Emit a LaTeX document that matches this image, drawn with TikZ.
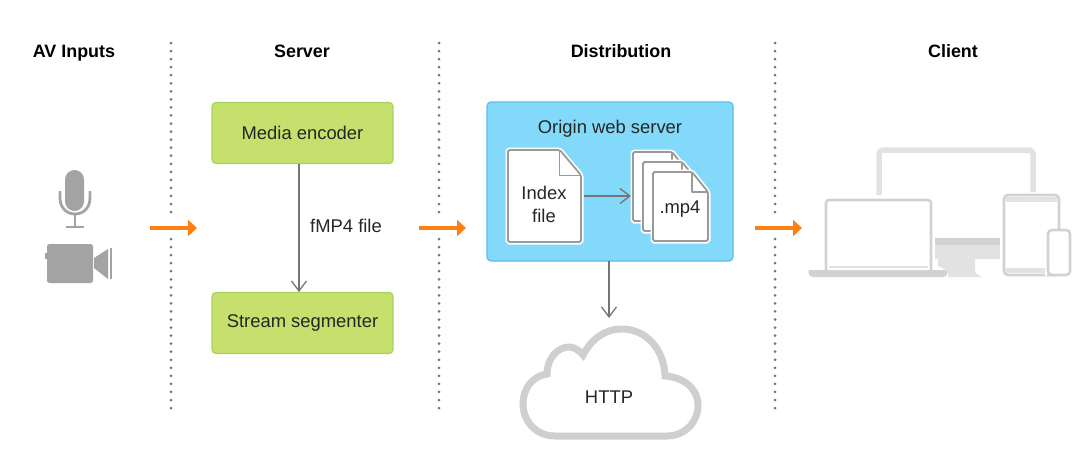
\documentclass[tikz,border=0pt]{standalone}
\usepackage{fontspec}
\setmainfont{Liberation Sans}
\usetikzlibrary{arrows.meta}
\usetikzlibrary{positioning}
\definecolor{boxgreen}{HTML}{C6E06E}
\definecolor{edgegreen}{HTML}{A6D25C}
\definecolor{boxblue}{HTML}{82D9F9}
\definecolor{edgeblue}{HTML}{5CBDEA}
\definecolor{flow}{HTML}{FF7F0F}
\definecolor{link}{HTML}{757575}
\definecolor{sheet}{HTML}{9A9A9A}
\definecolor{icon}{HTML}{A3A3A3}
\definecolor{device}{HTML}{E2E2E2}
\definecolor{devicedark}{HTML}{D2D2D2}
\definecolor{cloudline}{HTML}{CFCFCF}
\tikzset{title/.style = {font=\fontsize{17.9}{20}\selectfont\bfseries, text=black, anchor=base}}
\tikzset{label/.style = {font=\fontsize{18.4}{22}\selectfont, text=black!85, align=center, inner sep=0}}
\tikzset{greenbox/.style = {draw=edgegreen, fill=boxgreen, line width=1.2pt, rounded corners=4pt,
                            minimum width=181pt, minimum height=61pt, label}}
\tikzset{divider/.style = {draw=link, line width=3pt, line cap=round, dash pattern=on 0pt off 8.05pt}}
\tikzset{flowarrow/.style = {draw=flow, line width=3.6pt, -{Triangle[length=9pt,width=16pt]}}}
\tikzset{linkarrow/.style = {draw=link, line width=1.3pt, -{Straight Barb[length=10pt,width=15pt,line width=1.3pt]}}}
\tikzset{docsheet/.style = {draw=sheet, fill=white, line width=1.8pt, line join=round, rounded corners=1.5pt,
                            preaction={draw=white, line width=5pt}}}
\newcommand{\docpage}[4]{% left, top, width, height
  \draw[docsheet] (#1,#2) -- (#1+#3-#3*0.29,#2) -- (#1+#3,#2+#3*0.29+4) -- (#1+#3,#2+#4) -- (#1,#2+#4) -- cycle;
  \draw[draw=sheet, line width=1.3pt, line join=round] (#1+#3-#3*0.29,#2) -- (#1+#3-#3*0.29,#2+#3*0.29+4) -- (#1+#3,#2+#3*0.29+4);
}
\begin{document}
\begin{tikzpicture}[x=1pt, y=-1pt]
  \useasboundingbox (0,0) rectangle (1080,472);
  \node [title] (avtitle) at (74,57) {AV Inputs};
  \node [title] (servertitle) at (302,57) {Server};
  \node [title] (disttitle) at (621,57) {Distribution};
  \node [title] (clienttitle) at (953,57) {Client};
  \foreach \sepx in {171,439,775} {
    \draw [divider] (\sepx,43) -- (\sepx,216);
    \draw [divider] (\sepx,239) -- (\sepx,412);
  }

  % microphone and camera
  \fill [icon, rounded corners=9.5pt] (65,170) rectangle (84,211);
  \draw [icon, line width=2.8pt] (60,191) -- (60,198) .. controls (60,207) and (66,214) .. (75,214)
        .. controls (84,214) and (90,207) .. (90,198) -- (90,191);
  \draw [icon, line width=2.8pt] (75,214) -- (75,227);
  \draw [icon, line width=2.8pt] (66,227) -- (84,227);
  \fill [icon, rounded corners=2.5pt] (47,244) rectangle (93,283);
  \fill [icon] (45,253) rectangle (46.5,259);
  \fill [icon] (94,258) -- (108,249) -- (108,279) -- (94,268) -- cycle;
  \fill [icon] (110,248) rectangle (112,279);

  % server
  \node [greenbox] (encoder) at (302.5,133) {Media encoder};
  \node [greenbox] (segmenter) at (302.5,323) {Stream segmenter};
  \draw [linkarrow] (299,164) -- (299,292);
  \node [label] (fmp4) at (346,226) {fMP4 file};

  % distribution
  \node [draw=edgeblue, fill=boxblue, line width=1.2pt, rounded corners=4pt,
         minimum width=246pt, minimum height=159pt] (origin) at (610,181.5) {};
  \node [label] (origintitle) at (610,129) {Origin web server};
  \docpage{508}{150}{73}{92}
  \docpage{633}{152}{55}{69}
  \docpage{643}{162}{55}{69}
  \docpage{653}{172}{55}{69}
  \node [label] (indexfile) at (544,204) {Index\\[1pt]file};
  \node [label] (mp4) at (680,209) {.mp4};
  \coordinate (indexout) at (584,196);
  \coordinate (mp4in) at (631,196);
  \draw [linkarrow] (indexout) -- (mp4in);

  \draw [cloudline, line width=7pt, line join=miter, fill=white]
        (555,436) .. controls (536,436) and (523,421) .. (523,404)
        .. controls (523,388) and (533,376) .. (547,374)
        .. controls (547,358) and (558,347) .. (569,347)
        .. controls (574,347) and (579,350) .. (583,355)
        .. controls (591,340) and (604,329) .. (622,329)
        .. controls (646,329) and (664,349) .. (665,376)
        .. controls (684,377) and (698,389) .. (698,405)
        .. controls (698,423) and (684,436) .. (667,436) -- cycle;
  \node [label] (http) at (609,397) {HTTP};
  \coordinate (cloudtop) at (609,318);
  \draw [linkarrow] (609,261) -- (cloudtop);

  % client devices
  \draw [device, line width=5.5pt, rounded corners=4pt] (879,195) -- (879,150) -- (1033,150) -- (1033,192);
  \fill [devicedark] (935,238) rectangle (1000,245);
  \fill [device] (935,245) rectangle (1000,259);
  \fill [device] (938,259) -- (975,259) -- (975,270) .. controls (975,273) and (978,275) .. (982,277)
        -- (948,277) -- (948,271) -- (938,266) -- cycle;
  \draw [devicedark, line width=2.6pt, rounded corners=3pt] (826,270) -- (826,200) -- (931,200) -- (931,270);
  \draw [device, line width=2pt] (829,267) -- (928,267);
  \fill [devicedark, rounded corners=1.5pt] (808,270) -- (948,270) -- (947,275) -- (945,277) -- (811,277) -- (809,275) -- cycle;
  \draw [devicedark, fill=white, line width=2.6pt, rounded corners=4pt] (1004,195) rectangle (1059,275);
  \fill [device] (1006,197) rectangle (1057,202);
  \fill [device] (1006,268) rectangle (1057,273);
  \draw [draw=white, line width=2pt] (1046,229) -- (1046,276);
  \draw [devicedark, fill=white, line width=2.6pt, rounded corners=4pt] (1048,230) rectangle (1070,275);

  % flow arrows between the columns
  \coordinate (avout) at (150,228);
  \coordinate (serverin) at (197,228);
  \coordinate (serverout) at (419,228);
  \coordinate (distin) at (466,228);
  \coordinate (distout) at (755,228);
  \coordinate (clientin) at (802,228);
  \draw [flowarrow] (avout) -- (serverin);
  \draw [flowarrow] (serverout) -- (distin);
  \draw [flowarrow] (distout) -- (clientin);
\end{tikzpicture}
\end{document}
